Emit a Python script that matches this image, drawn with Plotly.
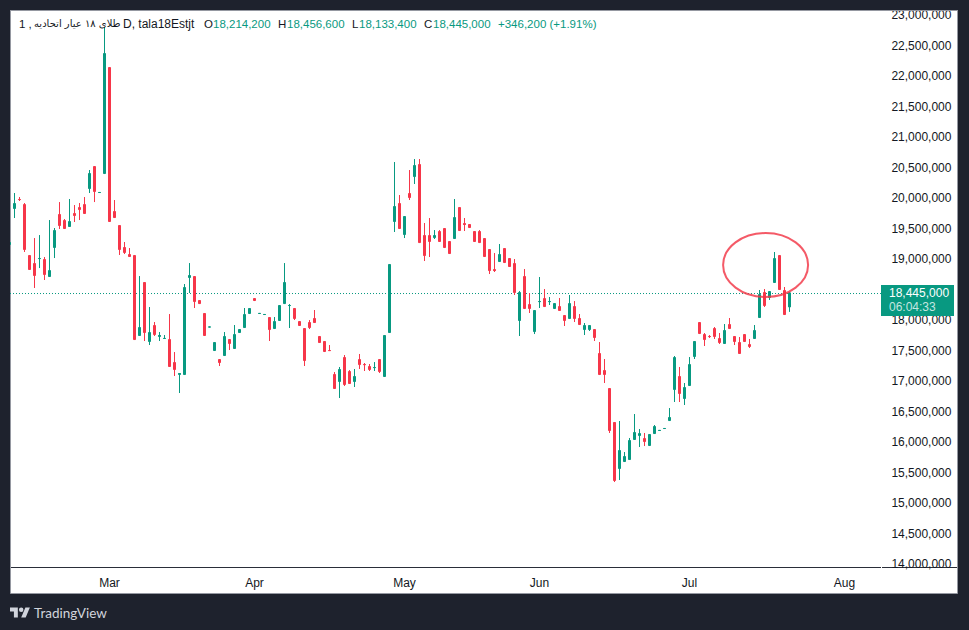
import numpy as np
import plotly.graph_objects as go

# Daily bars, prices in millions; the first bar sits just past the left edge of the view.
BAR_INDEX = list(range(-1, 156))
OPEN = [
    19.238,19.828,19.976,19.893,19.057,18.926,19.007,18.992,18.713,19.189,
    19.730,19.631,19.533,19.746,19.844,19.893,20.156,20.516,20.090,20.402,
    22.139,19.779,19.549,19.189,19.074,19.057,17.746,18.615,17.648,17.910,
    17.730,17.697,17.680,17.303,17.107,17.107,18.697,18.713,18.320,18.107,
    17.885,17.500,17.352,17.418,17.680,17.533,17.795,17.877,18.107,18.352,
    18.107,18.090,18.041,17.861,17.992,18.270,18.237,18.189,17.975,17.861,
    17.959,18.025,17.730,17.648,17.500,17.107,16.992,17.385,17.156,16.992,
    17.352,17.270,17.238,17.220,17.352,17.074,17.795,19.615,19.910,19.402,
    20.074,20.352,20.549,19.385,19.385,19.352,19.451,19.500,19.287,19.336,
    19.844,19.582,19.566,19.451,19.451,19.336,19.156,18.828,18.959,19.172,
    19.008,18.926,17.992,18.713,18.254,17.811,18.302,18.352,18.302,18.189,
    18.221,18.074,18.025,18.221,18.025,17.844,17.844,17.844,17.451,17.172,
    16.877,16.320,15.566,15.680,15.713,16.041,16.107,16.057,15.943,16.139,
    16.189,16.221,16.352,16.861,17.074,16.713,16.926,17.402,17.959,17.762,
    17.730,17.861,17.697,17.615,17.926,17.730,17.631,17.762,17.598,17.697,
    18.041,18.451,18.369,18.615,19.057,18.484,18.2142,
]
HIGH = [
    19.279,20.082,20.016,19.918,19.066,19.344,19.393,19.033,19.639,19.508,
    19.934,19.656,19.984,19.885,19.918,20.016,20.459,20.525,20.091,22.803,
    22.148,19.967,19.557,19.279,19.180,19.066,18.721,18.623,18.213,17.967,
    17.803,17.754,18.098,17.475,17.131,18.590,18.934,18.721,18.328,18.115,
    17.886,17.639,17.361,17.803,17.689,17.918,17.852,18.197,18.197,18.361,
    18.108,18.091,18.049,18.049,18.246,18.934,18.262,18.197,17.984,17.869,
    18.000,18.164,17.738,17.656,17.590,17.148,17.230,17.426,17.180,17.197,
    17.443,17.295,17.279,17.311,17.361,17.754,18.918,20.590,20.049,19.705,
    20.459,20.639,20.639,19.590,19.672,19.475,19.475,19.508,19.295,19.984,
    19.852,19.672,19.574,19.459,19.475,19.344,19.164,19.098,19.246,19.180,
    19.016,19.000,18.475,18.836,18.443,18.164,18.705,18.508,18.377,18.279,
    18.361,18.082,18.410,18.311,18.098,17.951,17.918,17.852,17.639,17.361,
    16.885,16.328,16.344,15.836,16.066,16.459,16.213,16.148,16.131,16.279,
    16.190,16.222,16.557,17.410,17.230,16.967,17.393,17.656,17.967,17.787,
    17.754,17.885,17.787,17.934,18.033,17.738,17.721,17.770,17.689,17.918,
    18.492,18.508,18.475,19.115,19.066,18.541,18.4566,
]
LOW = [
    19.230,19.672,19.951,19.115,18.820,18.525,18.852,18.656,18.705,19.016,
    19.492,19.492,19.525,19.607,19.639,19.738,20.082,19.934,20.090,20.393,
    19.607,19.672,19.066,19.082,19.033,17.672,17.738,17.656,17.590,17.738,
    17.656,17.689,17.230,17.082,16.803,17.098,18.443,18.197,18.262,17.738,
    17.885,17.492,17.246,17.410,17.508,17.525,17.787,17.869,18.098,18.311,
    18.107,18.090,17.656,17.852,17.984,18.262,17.869,18.000,17.902,17.246,
    17.852,17.951,17.623,17.475,17.492,16.869,16.721,16.918,16.951,16.902,
    17.197,17.164,17.164,17.164,17.131,17.066,17.787,19.443,19.492,19.344,
    19.967,20.230,19.262,18.967,19.033,19.328,19.279,19.180,19.082,19.328,
    19.459,19.459,19.508,19.279,19.262,19.033,18.754,18.787,18.951,18.934,
    18.869,18.410,17.738,18.180,18.115,17.770,18.197,18.213,18.246,18.180,
    18.148,17.902,18.016,17.967,17.918,17.754,17.820,17.656,17.098,16.967,
    16.148,15.344,15.377,15.672,15.705,16.033,15.918,15.934,15.934,16.131,
    16.189,16.221,16.344,16.656,16.656,16.607,16.918,17.361,17.770,17.574,
    17.705,17.689,17.607,17.607,17.852,17.590,17.443,17.639,17.541,17.689,
    18.033,18.213,18.328,18.607,18.492,18.082,18.1334,
]
CLOSE = [
    19.271,19.910,19.975,19.156,18.828,18.730,19.008,18.746,18.811,19.467,
    19.549,19.500,19.615,19.713,19.811,19.746,20.402,20.107,20.091,22.369,
    19.615,19.680,19.156,19.107,19.041,17.680,17.877,17.795,17.795,17.762,
    17.746,17.698,17.238,17.189,17.123,18.533,18.730,18.303,18.270,17.746,
    17.886,17.631,17.303,17.730,17.615,17.762,17.844,18.090,18.189,18.320,
    18.108,18.091,17.844,17.975,18.238,18.615,18.238,18.025,17.910,17.336,
    17.877,17.959,17.631,17.484,17.499,16.877,17.189,16.943,16.959,17.074,
    17.270,17.269,17.189,17.221,17.156,17.746,18.910,19.861,19.500,19.697,
    20.008,20.533,19.270,19.057,19.287,19.385,19.287,19.189,19.090,19.680,
    19.467,19.566,19.516,19.287,19.270,19.041,18.811,18.811,19.074,18.943,
    18.877,18.451,18.451,18.189,18.189,18.156,18.303,18.221,18.303,18.270,
    18.156,17.992,18.270,18.025,17.926,17.910,17.910,17.713,17.107,17.107,
    16.189,15.369,15.861,15.762,16.025,16.156,16.139,16.008,16.123,16.254,
    16.190,16.222,16.402,17.385,16.795,16.893,17.270,17.648,17.779,17.680,
    17.729,17.730,17.631,17.828,17.861,17.648,17.451,17.648,17.566,17.828,
    18.418,18.238,18.467,19.008,18.500,18.090,18.445,
]

MONTH_BARS = [19, 48, 78, 105, 135, 166]
MONTH_LABELS = ["Mar", "Apr", "May", "Jun", "Jul", "Aug"]
PRICE_TICKS = [14 + 0.5 * i for i in range(19)]

LAST_PRICE = 18.445
LAST_PRICE_TEXT = "18,445,000"
COUNTDOWN_TEXT = "06:04:33"
INTERVAL_TEXT = "1 ,"
SYMBOL_NAME = "طلای ۱۸ عیار اتحادیه"
SYMBOL_TICKER = "D, tala18Estjt"
OHLC_LEGEND = [
    ("O", 203, "#131722"), ("18,214,200", 212, "#089981"),
    ("H", 277, "#131722"), ("18,456,600", 286, "#089981"),
    ("L", 351, "#131722"), ("18,133,400", 358, "#089981"),
    ("C", 423, "#131722"), ("18,445,000", 432, "#089981"),
    ("+346,200 (+1.91%)", 497, "#089981"),
]

# Marked area around the latest swing, in bar index and price.
MARK_BARS = (141.72, 158.72)
MARK_PRICES = (18.377, 19.426)

UP = "#089981"
DOWN = "#F63649"
FRAME_BG = "#1E222D"
BORDER = "#9598A1"
TEXT = "#131722"
FONT = "Liberation Sans"

WIDTH, HEIGHT = 969, 630
PLOT_L, PLOT_R, PLOT_T, PLOT_B = 10, 881, 11, 567


def px_x(p):
    return (p - PLOT_L) / (PLOT_R - PLOT_L)


def px_y(p):
    return 1 - (p - PLOT_T) / (PLOT_B - PLOT_T)


def paper_rect(x0, y0, x1, y1, layer="below", **kw):
    return dict(type="rect", xref="paper", yref="paper", x0=px_x(x0), x1=px_x(x1),
                y0=px_y(y0), y1=px_y(y1), layer=layer, **kw)


def label(text, x, y, color=TEXT, size=11.5, family=FONT):
    # Axis-domain references keep text in the margins from resizing the plot area.
    return dict(text=text, x=px_x(x), y=px_y(y), xref="x domain", yref="y domain", showarrow=False,
                xanchor="left", yanchor="middle", borderpad=0,
                font=dict(color=color, size=size, family=family))


scale = 1e6
fig = go.Figure(go.Candlestick(
    x=BAR_INDEX,
    open=np.array(OPEN) * scale, high=np.array(HIGH) * scale,
    low=np.array(LOW) * scale, close=np.array(CLOSE) * scale,
    increasing=dict(line=dict(color=UP, width=1), fillcolor=UP),
    decreasing=dict(line=dict(color=DOWN, width=1), fillcolor=DOWN),
    whiskerwidth=0, hoverinfo="skip", showlegend=False,
))

# TradingView mark: bar-and-stem, dot and slanted stroke on a 36-unit grid.
LOGO_X, LOGO_Y, LOGO_S = 10, 605.3, 0.56


def logo_path(points):
    parts = [f"{px_x(LOGO_X + LOGO_S * a):.5f},{px_y(LOGO_Y + LOGO_S * b):.5f}" for a, b in points]
    return "M" + " L".join(parts) + " Z"


logo_stem = [(14, 22), (7, 22), (7, 11), (0, 11), (0, 4), (14, 4)]
logo_slash = [(28, 22), (20, 22), (27.5, 4), (35.5, 4)]

shapes = [
    # Chart card with its thin border
    paper_rect(10.5, 10.5, 957.5, 593.5, fillcolor="white", line=dict(color=BORDER, width=1)),
    # Time axis rule, broken where the price scale starts
    dict(type="line", xref="paper", yref="paper", x0=px_x(11), x1=px_x(881), y0=px_y(567.5), y1=px_y(567.5),
         layer="below", line=dict(color="#2A2E39", width=1)),
    dict(type="line", xref="paper", yref="paper", x0=px_x(882), x1=px_x(957), y0=px_y(567.5), y1=px_y(567.5),
         layer="below", line=dict(color="#2A2E39", width=1)),
    # Last price line, anchored to the price and nudged onto a whole pixel row
    dict(type="line", xref="paper", yref="y", x0=0, x1=1, ysizemode="pixel", yanchor=LAST_PRICE * scale,
         y0=-0.65, y1=-0.65, layer="below", line=dict(color=UP, width=1, dash="1px,2px")),
    # Hand-drawn marker
    dict(type="circle", xref="x", yref="y", x0=MARK_BARS[0], x1=MARK_BARS[1],
         y0=MARK_PRICES[0] * scale, y1=MARK_PRICES[1] * scale, layer="above",
         line=dict(color="rgba(242,54,69,0.82)", width=2)),
    # Dark strip that trims the scale text at the card's top edge
    paper_rect(0, 0, 969, 10, layer="above", fillcolor=FRAME_BG, line=dict(width=0)),
    dict(type="line", xref="paper", yref="paper", x0=px_x(10), x1=px_x(958), y0=px_y(10.5), y1=px_y(10.5),
         layer="above", line=dict(color=BORDER, width=1)),
    # Last price tag
    paper_rect(881, 285, 954, 316, layer="above", fillcolor=UP, line=dict(width=0)),
    # Logo
    dict(type="path", xref="paper", yref="paper", path=logo_path(logo_stem),
         fillcolor="#D1D4DC", line=dict(width=0), layer="above"),
    dict(type="path", xref="paper", yref="paper", path=logo_path(logo_slash),
         fillcolor="#D1D4DC", line=dict(width=0), layer="above"),
    dict(type="circle", xref="paper", yref="paper",
         x0=px_x(LOGO_X + LOGO_S * 16), x1=px_x(LOGO_X + LOGO_S * 24),
         y0=px_y(LOGO_Y + LOGO_S * 4), y1=px_y(LOGO_Y + LOGO_S * 12),
         fillcolor="#D1D4DC", line=dict(width=0), layer="above"),
]

annotations = [
    label(INTERVAL_TEXT, 18, 24),
    label(SYMBOL_NAME, 33, 24, size=10, family="DejaVu Sans"),
    label(SYMBOL_TICKER, 122, 24, size=12),
]
annotations += [label(t, x, 24, color=c) for t, x, c in OHLC_LEGEND]
annotations += [
    label(LAST_PRICE_TEXT, 888, 293, color="white", size=12),
    label(COUNTDOWN_TEXT, 888, 307, color="#C4E6E0", size=12),
    label("TradingView", 33, 612.5, color="#D1D4DC", size=13.5, family="Lato"),
]

fig.update_layout(
    width=WIDTH, height=HEIGHT, autosize=False,
    margin=dict(l=PLOT_L, r=WIDTH - PLOT_R, t=PLOT_T, b=HEIGHT - PLOT_B, pad=0),
    paper_bgcolor=FRAME_BG, plot_bgcolor="white",
    font=dict(family=FONT, size=12, color=TEXT),
    boxgap=0.6, boxgroupgap=0, boxmode="overlay",
    shapes=shapes, annotations=annotations,
    xaxis=dict(
        automargin=False,
        range=[-0.9, 173.3], rangeslider=dict(visible=False), showgrid=False, zeroline=False,
        tickmode="array", tickvals=MONTH_BARS, ticktext=MONTH_LABELS, ticks="outside", ticklen=5,
        tickcolor="rgba(0,0,0,0)", tickfont=dict(family=FONT, size=12, color=TEXT), showline=False,
    ),
    yaxis=dict(
        automargin=False,
        range=[13.951 * scale, 23.066 * scale], side="right", showgrid=False, zeroline=False,
        tickmode="array", tickvals=[p * scale for p in PRICE_TICKS], tickformat=",.0f",
        ticks="outside", ticklen=7, tickcolor="rgba(0,0,0,0)",
        tickfont=dict(family=FONT, size=12, color=TEXT), showline=False,
    ),
)

fig.write_html("out.html", config={"displayModeBar": False})
